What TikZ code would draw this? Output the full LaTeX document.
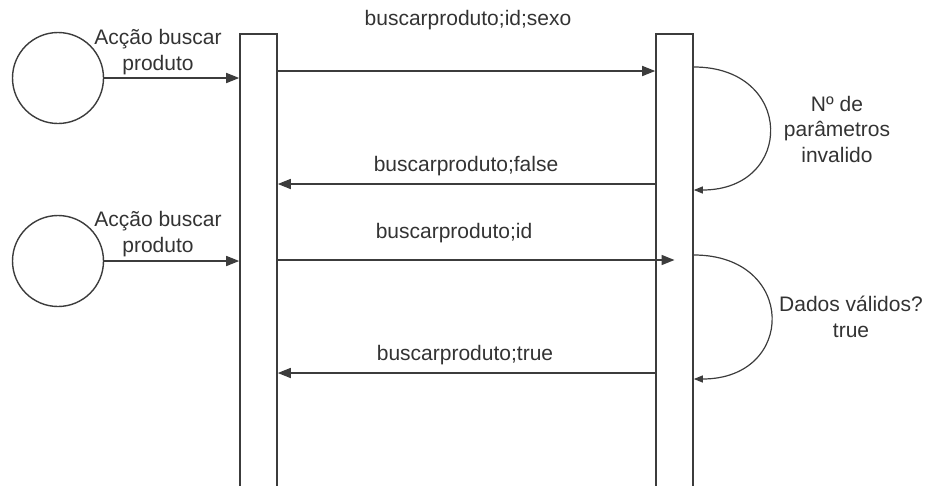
\documentclass[tikz,border=0pt]{standalone}
\usepackage{fontspec}
\setmainfont{Liberation Sans}
\usetikzlibrary{arrows.meta}
\definecolor{ln}{HTML}{3C3C3C}
\definecolor{tx}{HTML}{333333}
\begin{document}
\begin{tikzpicture}[x=1pt,y=-1pt,
  lbl/.style={text=tx,font=\fontsize{21}{25.5}\selectfont,inner sep=0pt,align=center,anchor=base},
  actor/.style={circle,draw=ln,line width=1.4pt,minimum size=91pt,inner sep=0pt},
  lifeline/.style={rectangle,draw=ln,line width=1.6pt,minimum width=37pt,minimum height=470pt,anchor=north,fill=white},
  msg/.style={draw=ln,line width=1.6pt,-{Triangle[length=13pt,width=10pt]}},
  selfloop/.style={draw=ln,line width=1.2pt,-{Triangle[length=9pt,width=7pt]}}]
\useasboundingbox (0,0) rectangle (928,485);
\node[actor] (c1) at (58,78) {};
\node[actor] (c2) at (58,261) {};
\node[lifeline] (b1) at (258.5,33) {};
\node[lifeline] (b2) at (674.5,33) {};
\coordinate (y1) at (0,71);
\coordinate (y2) at (0,184);
\coordinate (y3) at (0,260);
\coordinate (y4) at (0,373);
\coordinate (a1s) at (0,67);
\coordinate (a1e) at (0,190);
\coordinate (a2s) at (0,255);
\coordinate (a2e) at (0,379);
% actor messages
\draw[msg] (c1.east) -- (c1.east -| b1.west);
\draw[msg] (c2.east) -- (c2.east -| b1.west);
% messages between lifelines
\draw[msg] (b1.east |- y1) -- (b2.west |- y1);
\draw[msg] (b2.west |- y2) -- (b1.east |- y2);
\draw[msg] (b1.east |- y3) -- (b2.center |- y3);
\draw[msg] (b2.west |- y4) -- (b1.east |- y4);
% self loops
\draw[selfloop] (b2.east |- a1s) .. controls ([xshift=101pt]b2.east |- a1s) and ([xshift=101pt]b2.east |- a1e) .. (b2.east |- a1e);
\draw[selfloop] (b2.east |- a2s) .. controls ([xshift=103pt]b2.east |- a2s) and ([xshift=103pt]b2.east |- a2e) .. (b2.east |- a2e);
% labels (base anchor = baseline of last line)
\node[lbl] (l1) at (158,70) {Acção buscar\\produto};
\node[lbl] (l2) at (158,252) {Acção buscar\\produto};
\node[lbl] (m1) at (468,25) {buscarproduto;id;sexo};
\node[lbl] (m2) at (466,171) {buscarproduto;false};
\node[lbl] (m3) at (454,238) {buscarproduto;id};
\node[lbl] (m4) at (465,360) {buscarproduto;true};
\node[lbl] (n1) at (837,162) {Nº de\\parâmetros\\invalido};
\node[lbl] (n2) at (851,337) {Dados válidos?\\true};
\end{tikzpicture}
\end{document}
